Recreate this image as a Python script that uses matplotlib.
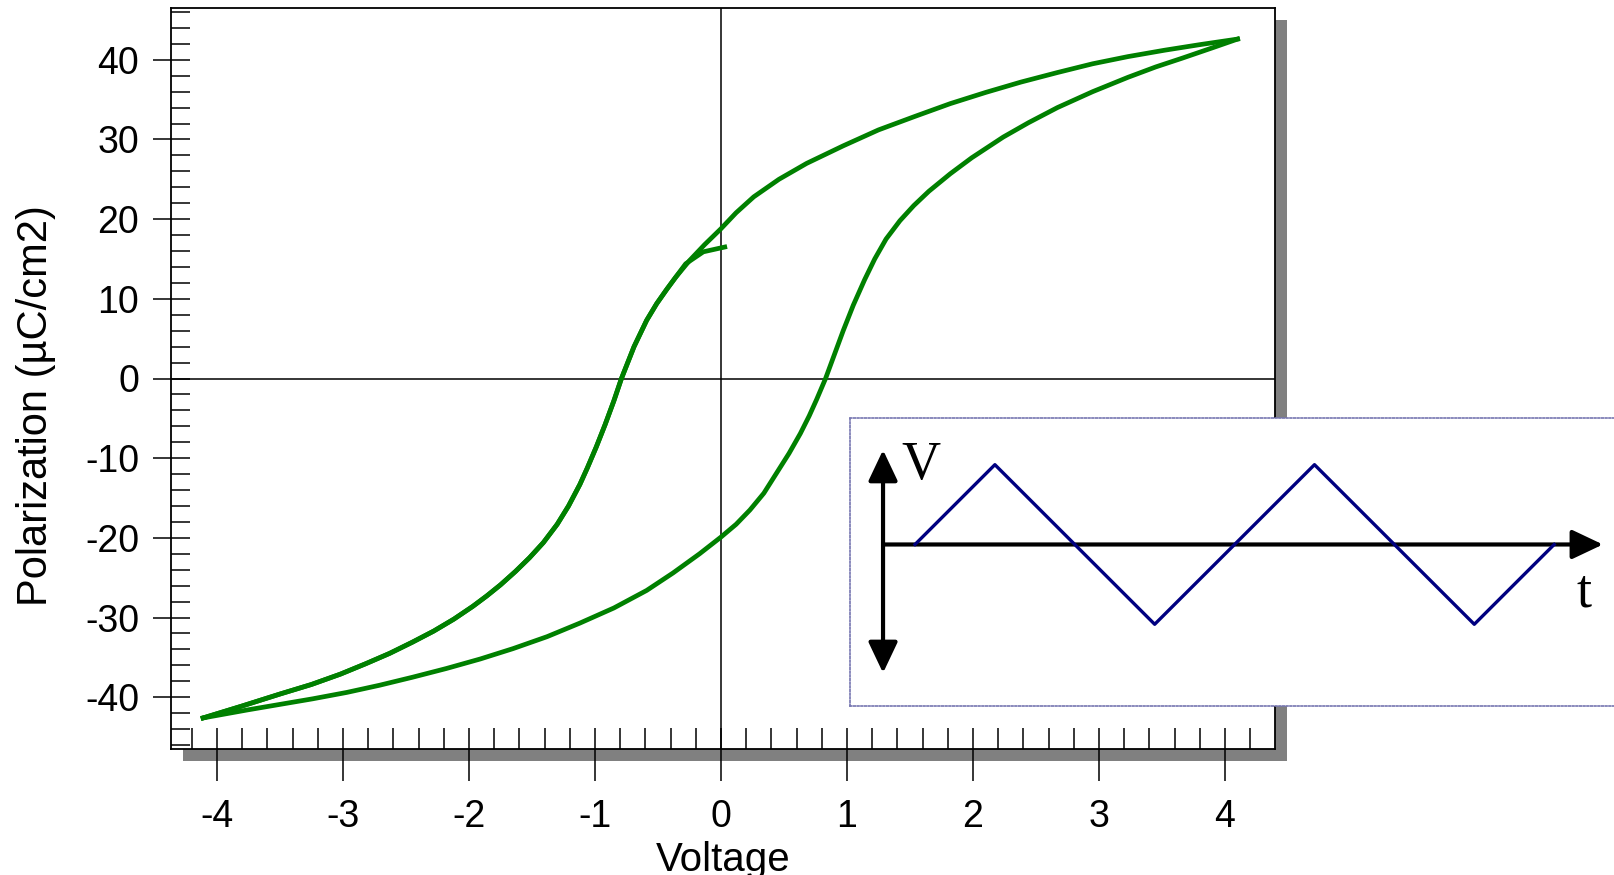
import matplotlib.pyplot as plt
from matplotlib.patches import Rectangle
from matplotlib.ticker import FixedLocator

plt.rcParams['font.family'] = ['Liberation Sans', 'DejaVu Sans']
plt.rcParams['axes.unicode_minus'] = False

# hysteresis loop (V, uC/cm2)
hook_v = [0.03, -0.14, -0.28]
hook_p = [16.5, 15.9, 14.4]

down_v = [-0.28, -0.36, -0.43, -0.51, -0.59, -0.69, -0.79, -0.85, -0.92, -0.99, -1.06, -1.12,
          -1.21, -1.30, -1.41, -1.52, -1.63, -1.75, -1.86, -1.97, -2.12, -2.28, -2.45,
          -2.63, -2.82, -3.02, -3.25, -3.50, -3.80, -4.11]
down_p = [14.4, 12.7, 11.2, 9.4, 7.3, 4.0, 0.0, -2.8, -5.8, -8.6, -11.2, -13.3,
          -16.0, -18.3, -20.6, -22.5, -24.2, -25.9, -27.3, -28.6, -30.2, -31.7, -33.1,
          -34.5, -35.8, -37.1, -38.4, -39.6, -41.1, -42.6]

up_v = [-4.11, -3.76, -3.50, -3.24, -2.97, -2.71, -2.45, -2.18, -1.91, -1.65, -1.38,
        -1.12, -0.85, -0.59, -0.38, -0.17, 0.0, 0.12, 0.23, 0.34, 0.44, 0.54, 0.63,
        0.70, 0.76, 0.83, 0.90, 0.97, 1.05, 1.14, 1.22, 1.31, 1.42, 1.53, 1.65, 1.82,
        1.99, 2.24, 2.44, 2.67, 2.95, 3.23, 3.45, 3.66, 3.90, 4.10]
up_p = [-42.6, -41.6, -40.9, -40.2, -39.4, -38.5, -37.5, -36.4, -35.2, -33.9, -32.4,
        -30.7, -28.8, -26.6, -24.4, -22.0, -19.9, -18.3, -16.5, -14.4, -11.9, -9.4, -6.9,
        -4.7, -2.6, 0.0, 3.0, 6.0, 9.2, 12.4, 15.0, 17.5, 19.8, 21.7, 23.5, 25.7,
        27.7, 30.3, 32.1, 34.0, 36.0, 37.8, 39.1, 40.2, 41.5, 42.6]

top_v = [4.10, 3.80, 3.52, 3.23, 2.95, 2.67, 2.38, 2.10, 1.82, 1.54, 1.25, 0.97,
         0.68, 0.46, 0.26, 0.12, 0.0, -0.13, -0.25]
top_p = [42.6, 41.9, 41.2, 40.4, 39.5, 38.4, 37.2, 35.9, 34.5, 32.9, 31.2, 29.2,
         27.0, 25.0, 22.8, 20.8, 18.8, 16.8, 14.8]

x_major = [-4, -3, -2, -1, 0, 1, 2, 3, 4]
y_major = [-40, -30, -20, -10, 0, 10, 20, 30, 40]
x_minor = [i / 5 for i in range(-21, 22)]
y_minor = list(range(-46, 47, 2))

# triangle drive signal in the inset (quarter periods, amplitude)
wave_t = [0, 1, 3, 5, 7, 8]
wave_v = [0, 1, -1, 1, -1, 0]

green = '#008000'
fig = plt.figure(figsize=(16.14, 8.75), dpi=100)

ax_rect = [171 / 1614, 1 - 749 / 875, 1104 / 1614, 741 / 875]
shadow = Rectangle((ax_rect[0] + 12 / 1614, ax_rect[1] - 12 / 875), ax_rect[2], ax_rect[3],
                   transform=fig.transFigure, facecolor='#808080', edgecolor='none', zorder=-1)
fig.add_artist(shadow)

ax = fig.add_axes(ax_rect)
ax.set_facecolor('white')
ax.plot(hook_v + down_v[1:], hook_p + down_p[1:], color=green, lw=3.4, solid_joinstyle='round')
ax.plot(up_v, up_p, color=green, lw=3.4, solid_joinstyle='round')
ax.plot(top_v + down_v[1:], top_p + down_p[1:], color=green, lw=3.4, solid_joinstyle='round')
ax.axhline(0, color='black', lw=1.1, zorder=1)
ax.axvline(0, color='black', lw=1.1, zorder=1)

ax.set_xlim(-4.365, 4.397)
ax.set_ylim(-46.5, 46.5)
ax.xaxis.set_major_locator(FixedLocator(x_major))
ax.yaxis.set_major_locator(FixedLocator(y_major))
ax.xaxis.set_minor_locator(FixedLocator(x_minor))
ax.yaxis.set_minor_locator(FixedLocator(y_minor))
ax.xaxis.remove_overlapping_locs = False
ax.yaxis.remove_overlapping_locs = False
ax.set_xticklabels([str(v) for v in x_major])
ax.set_yticklabels([str(v) for v in y_major])
ax.tick_params(axis='x', which='major', direction='out', length=23, width=1.1, pad=13, labelsize=27)
ax.tick_params(axis='x', which='minor', direction='in', length=15, width=1.1)
ax.tick_params(axis='y', which='major', direction='out', length=13, width=1.1, pad=10, labelsize=27)
ax.tick_params(axis='y', which='minor', direction='in', length=13.5, width=1.1)
for s in ax.spines.values():
    s.set_linewidth(1.3)

ax.set_xlabel('Voltage', fontsize=29)
ax.xaxis.set_label_coords(0.5, -0.124)
ax.set_ylabel('Polarization (µC/cm2)', fontsize=30)
ax.yaxis.set_label_coords(-0.104, 0.464)

# inset with the drive waveform
ins = fig.add_axes([850 / 1614, 1 - 706 / 875, 780 / 1614, 288 / 875], zorder=5)
ins.set_facecolor('white')
ins.set_xlim(-0.8135, 8.949)
ins.set_ylim(-2.024, 1.585)
ins.set_xticks([])
ins.set_yticks([])
for s in ins.spines.values():
    s.set_linestyle((0, (1, 1.2)))
    s.set_linewidth(1.2)
    s.set_color('#7676b0')

ins.plot(wave_t, wave_v, color='#000080', lw=2.4, zorder=3)
ins.annotate('', xy=(8.61, 0), xytext=(-0.4, 0),
             arrowprops=dict(arrowstyle='-|>,head_length=0.95,head_width=0.45', mutation_scale=20,
                             lw=3, color='black', shrinkA=0, shrinkB=0), zorder=2)
ins.annotate('', xy=(-0.4, 1.184), xytext=(-0.4, -1.61),
             arrowprops=dict(arrowstyle='<|-|>,head_length=0.95,head_width=0.45', mutation_scale=20,
                             lw=3, color='black', shrinkA=0, shrinkB=0), zorder=2)
ins.text(0.08, 0.82, 'V', family='Liberation Serif', fontsize=39, ha='center', va='baseline')
ins.text(8.37, -0.78, 't', family='Liberation Serif', fontsize=39, ha='center', va='baseline')

fig.savefig('out.png', dpi=100)
